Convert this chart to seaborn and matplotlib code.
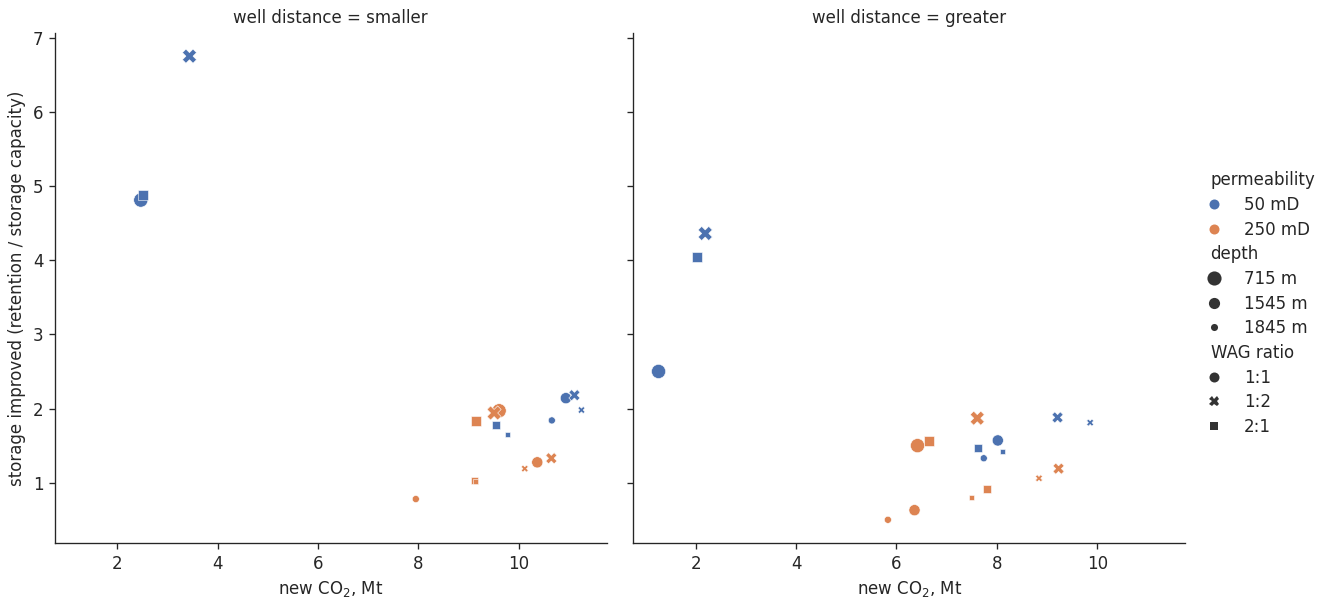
import matplotlib
matplotlib.use("Agg")
import matplotlib.pyplot as plt
import seaborn as sns
import pandas as pd

# Factor levels
distances = ["smaller", "greater"]
permeabilities = ["50 mD", "250 mD"]
depths = ["715 m", "1545 m", "1845 m"]
wag_ratios = ["1:1", "1:2", "2:1"]

# new CO2 (Mt), ordered by permeability -> depth -> WAG ratio
co2_smaller = [2.47, 3.44, 2.51, 10.94, 11.11, 9.55, 10.66, 11.25, 9.78,
               9.61, 9.51, 9.15, 10.37, 10.65, 9.12, 7.95, 10.12, 9.14]
co2_greater = [1.26, 2.19, 2.03, 8.02, 9.21, 7.63, 7.74, 9.86, 8.11,
               6.42, 7.61, 6.65, 6.36, 9.23, 7.81, 5.83, 8.84, 7.49]

# storage improved (retention / storage capacity), same ordering
gain_smaller = [4.81, 6.75, 4.88, 2.14, 2.18, 1.78, 1.84, 1.98, 1.65,
                1.97, 1.94, 1.83, 1.275, 1.33, 1.03, 0.78, 1.19, 1.01]
gain_greater = [2.50, 4.36, 4.04, 1.57, 1.88, 1.47, 1.33, 1.81, 1.415,
                1.50, 1.87, 1.565, 0.63, 1.19, 0.91, 0.50, 1.06, 0.80]

rows = []
for dist, co2, gain in [("smaller", co2_smaller, gain_smaller),
                        ("greater", co2_greater, gain_greater)]:
    i = 0
    for perm in permeabilities:
        for dep in depths:
            for wag in wag_ratios:
                rows.append({"well distance": dist, "permeability": perm,
                             "depth": dep, "WAG ratio": wag,
                             "new CO2": co2[i], "gain": gain[i]})
                i += 1
df = pd.DataFrame(rows)

sns.set_style("ticks")
g = sns.relplot(
    data=df, x="new CO2", y="gain", col="well distance", col_order=distances,
    hue="permeability", hue_order=permeabilities, palette="deep",
    size="depth", size_order=depths,
    style="WAG ratio", style_order=wag_ratios,
    kind="scatter", height=4.6, aspect=1.0,
)
g.set_axis_labels("new CO$_2$, Mt", "storage improved (retention / storage capacity)")

# Legend groups: permeability, then depth, then WAG ratio
group_titles = ["permeability", "depth", "WAG ratio"]
old = g._legend
handles = old.legend_handles
labels = [t.get_text() for t in old.texts]
entries = dict(zip(labels, handles))
for name in group_titles:
    entries[name].set_visible(False)
order = ([group_titles[0]] + permeabilities + [group_titles[1]] + depths
         + [group_titles[2]] + wag_ratios)
old.remove()
g.add_legend(legend_data=entries, label_order=order, adjust_subtitles=True,
             labelspacing=0.4)

fig = g.figure
DPI = 120
W, H = 1331, 597
fig.set_size_inches(W / DPI, H / DPI)
fig.subplots_adjust(left=55 / W, right=1185 / W, bottom=1 - 543 / H,
                    top=1 - 33 / H, wspace=27 / 552)
leg = g._legend
leg.set_bbox_to_anchor((0.9995, 0.4916), transform=fig.transFigure)
leg._loc = 7  # center right

fig.savefig("out.png", dpi=DPI)
